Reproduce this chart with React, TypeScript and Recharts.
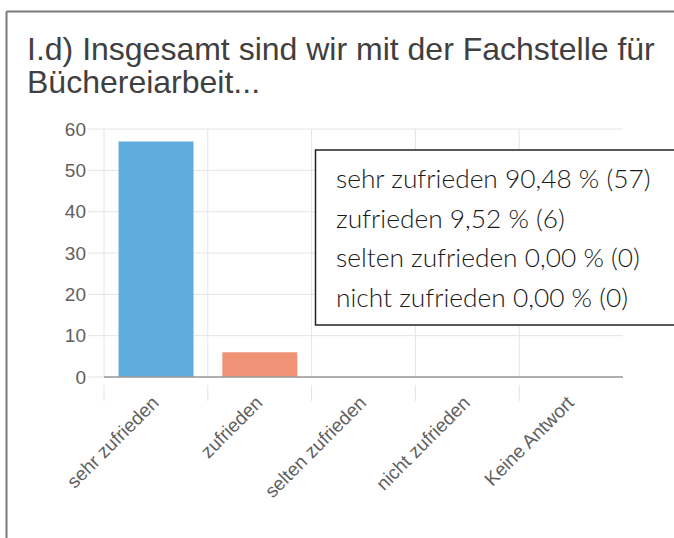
import React from 'react';
import { BarChart, Bar, XAxis, YAxis, CartesianGrid, Cell } from 'recharts';

const categories = ['sehr zufrieden', 'zufrieden', 'selten zufrieden', 'nicht zufrieden', 'Keine Antwort'];
const counts = [57, 6, 0, 0, 0];
const barColors = ['#5fadde', '#ef9275', '#a5c85a', '#f5c342', '#9b7fc7'];
const yTicks = [0, 10, 20, 30, 40, 50, 60];
const titleLines = ['I.d) Insgesamt sind wir mit der Fachstelle für', 'Büchereiarbeit...'];
const legendLines = [
  'sehr zufrieden 90,48 % (57)',
  'zufrieden 9,52 % (6)',
  'selten zufrieden 0,00 % (0)',
  'nicht zufrieden 0,00 % (0)',
];

const data = categories.map((name, i) => ({ name, value: counts[i] }));

const W = 674;
const H = 538;
const PLOT_LEFT = 104;
const PLOT_RIGHT = 623;
const PLOT_TOP = 129;
const PLOT_BOTTOM = 377;

const XTick = (props: any) => {
  const { x, y, payload } = props;
  const half = payload && payload.offset ? payload.offset : 0;
  const ax = x + 4;
  const ay = y + 19;
  return (
    <g>
      <line x1={x - half} x2={x - half} y1={y} y2={y + 16} stroke="#e2e2e2" strokeWidth={1} />
      <text
        x={ax}
        y={ay}
        textAnchor="end"
        fill="#606060"
        fontSize={19}
        fontFamily="'Liberation Sans', Arial, sans-serif"
        transform={`rotate(-45, ${ax}, ${ay})`}
      >
        {payload.value}
      </text>
    </g>
  );
};

export default function App() {
  return (
    <div style={{ position: 'absolute', left: 0, top: 0, width: W, height: H, background: '#fff', overflow: 'hidden' }}>
      <BarChart
        width={W}
        height={H}
        data={data}
        margin={{ top: PLOT_TOP, right: W - PLOT_RIGHT, bottom: 0, left: 0 }}
        barCategoryGap="14%"
      >
        <CartesianGrid
          stroke="#e4e4e4"
          verticalCoordinatesGenerator={({ offset }: any) =>
            categories.map((_, i) => offset.left + (i * offset.width) / categories.length)
          }
        />
        <XAxis
          dataKey="name"
          interval={0}
          tickLine={false}
          axisLine={{ stroke: '#9a9a9a', strokeWidth: 1.5 }}
          tick={<XTick />}
          height={H - PLOT_BOTTOM}
        />
        <YAxis
          width={PLOT_LEFT}
          domain={[0, 60]}
          ticks={yTicks}
          axisLine={false}
          tickSize={16}
          tickMargin={2}
          tickLine={{ stroke: '#e4e4e4' }}
          tick={{ fill: '#606060', fontSize: 19, fontFamily: "'Liberation Sans', Arial, sans-serif" }}
        />
        <Bar dataKey="value" isAnimationActive={false}>
          {data.map((d, i) => (
            <Cell key={d.name} fill={barColors[i]} />
          ))}
        </Bar>
      </BarChart>
      <svg
        width={W}
        height={H}
        style={{ position: 'absolute', left: 0, top: 0, pointerEvents: 'none' }}
      >
        <line x1={6.5} x2={W} y1={11.5} y2={11.5} stroke="#7a7a7a" strokeWidth={2} />
        <line x1={6.5} x2={6.5} y1={11.5} y2={H} stroke="#7a7a7a" strokeWidth={2} />
        {titleLines.map((t, i) => (
          <text
            key={t}
            x={27}
            y={60 + i * 33}
            fontSize={32}
            fill="#404040"
            fontFamily="'Liberation Sans', Arial, sans-serif"
          >
            {t}
          </text>
        ))}
        <rect x={315.5} y={150} width={420} height={175} fill="#fff" stroke="#222" strokeWidth={1.5} />
        {legendLines.map((t, i) => (
          <text
            key={t}
            x={336}
            y={188 + i * 39.7}
            fontSize={26.3}
            fontWeight={300}
            fill="#1a1a1a"
            fontFamily="Lato, 'Open Sans', sans-serif"
          >
            {t}
          </text>
        ))}
      </svg>
    </div>
  );
}
